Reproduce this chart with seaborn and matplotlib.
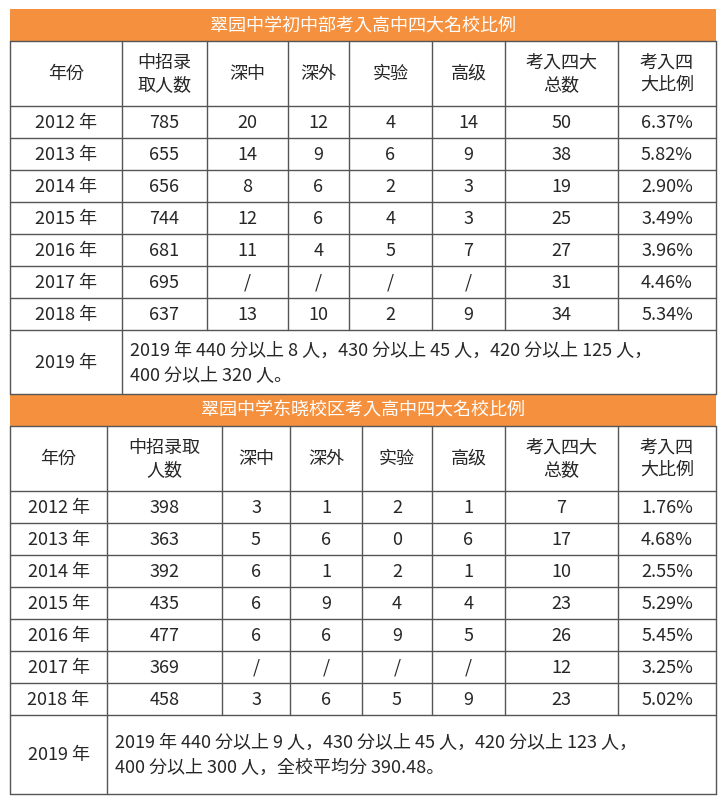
import matplotlib
matplotlib.use("Agg")
import matplotlib.pyplot as plt
from matplotlib import font_manager as fm
import seaborn as sns

sns.set_theme(style="white")
cjk = [f for f in fm.findSystemFonts() if "CJK" in f or "cjk" in f.lower()]
cjk.sort(key=lambda f: (0 if "SC" in f else 1, 0 if "Regular" in f else 1))
for f in cjk:
    try:
        fm.fontManager.addfont(f)
    except Exception:
        pass
names = []
for f in cjk:
    try:
        names.append(fm.FontProperties(fname=f).get_name())
    except Exception:
        pass
plt.rcParams["font.family"] = "sans-serif"
plt.rcParams["font.sans-serif"] = ["Noto Sans CJK SC"] + names + ["DejaVu Sans"]
FP = fm.FontProperties(fname=cjk[0]) if cjk else fm.FontProperties(family="Noto Sans CJK SC")
FPB = FP.copy()
FPB.set_weight("bold")

title1 = "翠园中学初中部考入高中四大名校比例"
title2 = "翠园中学东晓校区考入高中四大名校比例"
headers1 = ["年份", "中招录\n取人数", "深中", "深外", "实验", "高级", "考入四大\n总数", "考入四\n大比例"]
headers2 = ["年份", "中招录取\n人数", "深中", "深外", "实验", "高级", "考入四大\n总数", "考入四\n大比例"]
years = ["2012 年", "2013 年", "2014 年", "2015 年", "2016 年", "2017 年", "2018 年"]

enrolled1 = ["785", "655", "656", "744", "681", "695", "637"]
shenzhong1 = ["20", "14", "8", "12", "11", "/", "13"]
shenwai1 = ["12", "9", "6", "6", "4", "/", "10"]
shiyan1 = ["4", "6", "2", "4", "5", "/", "2"]
gaoji1 = ["14", "9", "3", "3", "7", "/", "9"]
total1 = ["50", "38", "19", "25", "27", "31", "34"]
ratio1 = ["6.37%", "5.82%", "2.90%", "3.49%", "3.96%", "4.46%", "5.34%"]
note1 = "2019 年 440 分以上 8 人，430 分以上 45 人，420 分以上 125 人，\n400 分以上 320 人。"

enrolled2 = ["398", "363", "392", "435", "477", "369", "458"]
shenzhong2 = ["3", "5", "6", "6", "6", "/", "3"]
shenwai2 = ["1", "6", "1", "9", "6", "/", "6"]
shiyan2 = ["2", "0", "2", "4", "9", "/", "5"]
gaoji2 = ["1", "6", "1", "4", "5", "/", "9"]
total2 = ["7", "17", "10", "23", "26", "12", "23"]
ratio2 = ["1.76%", "4.68%", "2.55%", "5.29%", "5.45%", "3.25%", "5.02%"]
note2 = "2019 年 440 分以上 9 人，430 分以上 45 人，420 分以上 123 人，\n400 分以上 300 人，全校平均分 390.48。"

W, H = 727, 803
fig = plt.figure(figsize=(W / 100, H / 100), dpi=100)
ax = fig.add_axes([0, 0, 1, 1])
ax.set_xlim(0, W)
ax.set_ylim(H, 0)
ax.axis("off")

ORANGE = "#F5913E"
LC = "#555555"
FS = 13

def draw_table(top, title, headers, cols, data, note, bottom):
    L, R = cols[0], cols[-1]
    ax.add_patch(plt.Rectangle((L, top), R - L, 32, color=ORANGE, lw=0))
    ax.text((L + R) / 2, top + 16, title, color="white", fontsize=FS, fontproperties=FPB,
            ha="center", va="center")
    y = top + 32
    rows_y = [y, y + 65] + [y + 65 + 32 * (i + 1) for i in range(7)]
    for yy in rows_y + [bottom]:
        ax.plot([L, R], [yy, yy], color=LC, lw=1)
    last = rows_y[-1]
    for i, x in enumerate(cols):
        y2 = bottom if i in (0, 1, len(cols) - 1) else last
        ax.plot([x, x], [y, y2], color=LC, lw=1)
    centers = [(cols[i] + cols[i + 1]) / 2 for i in range(len(cols) - 1)]
    for c, h in zip(centers, headers):
        ax.text(c, y + 32, h, fontproperties=FP, fontsize=FS, ha="center", va="center",
                linespacing=1.3)
    for r in range(7):
        cy = rows_y[1] + 32 * r + 16
        for c, col in zip(centers, data):
            ax.text(c, cy, col[r], fontproperties=FP, fontsize=FS, ha="center", va="center")
    ax.text(centers[0], (last + bottom) / 2, "2019 年", fontproperties=FP, fontsize=FS,
            ha="center", va="center")
    ax.text(cols[1] + 8, (last + bottom) / 2, note, fontproperties=FP, fontsize=FS,
            ha="left", va="center", linespacing=1.5)

cols1 = [10, 122, 207, 288, 349, 432, 505, 618, 716]
cols2 = [10, 107, 222, 290, 362, 432, 505, 618, 716]
draw_table(10, title1, headers1, cols1,
           [years, enrolled1, shenzhong1, shenwai1, shiyan1, gaoji1, total1, ratio1],
           note1, 395)
draw_table(395, title2, headers2, cols2,
           [years, enrolled2, shenzhong2, shenwai2, shiyan2, gaoji2, total2, ratio2],
           note2, 795)

fig.savefig("out.png", dpi=100)
